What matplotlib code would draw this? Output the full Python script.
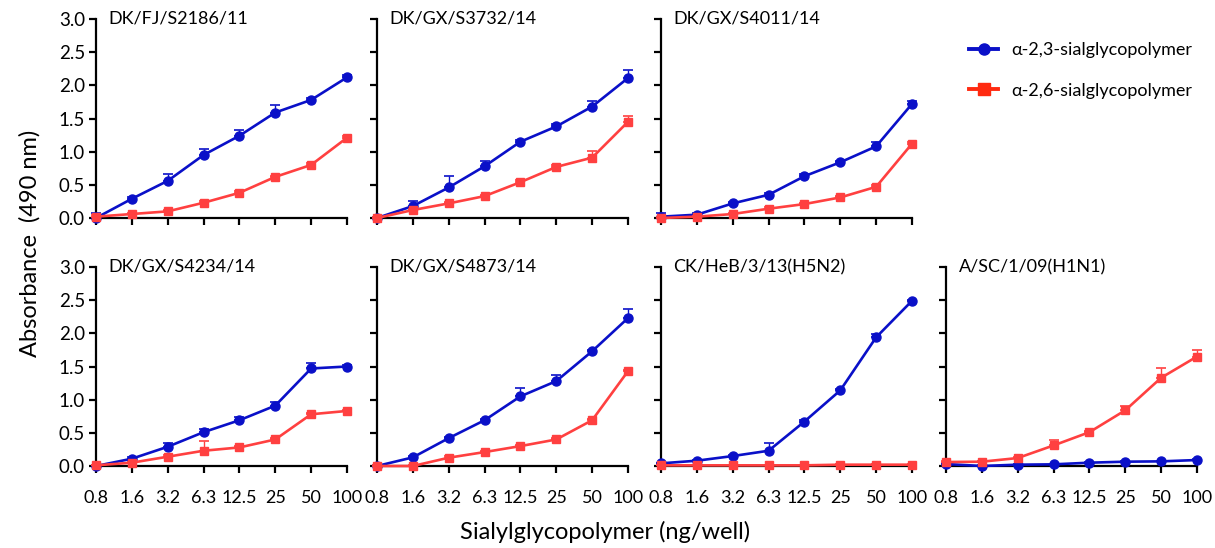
import numpy as np
import matplotlib
matplotlib.use("Agg")
import matplotlib.pyplot as plt

plt.rcParams['font.family'] = ['Lato', 'DejaVu Sans']

# x categories (ng/well)
conc = ['0.8', '1.6', '3.2', '6.3', '12.5', '25', '50', '100']

# panel titles
titles = ['DK/FJ/S2186/11', 'DK/GX/S3732/14', 'DK/GX/S4011/14',
          'DK/GX/S4234/14', 'DK/GX/S4873/14', 'CK/HeB/3/13(H5N2)', 'A/SC/1/09(H1N1)']

# alpha-2,3 values / errors
s2186_a23 = [0.00, 0.29, 0.56, 0.95, 1.24, 1.59, 1.78, 2.12]
s2186_a23_err = [0.08, 0.02, 0.10, 0.09, 0.08, 0.11, 0.03, 0.03]
s3732_a23 = [0.00, 0.18, 0.46, 0.78, 1.15, 1.38, 1.68, 2.11]
s3732_a23_err = [0.02, 0.08, 0.18, 0.08, 0.03, 0.03, 0.08, 0.12]
s4011_a23 = [0.02, 0.05, 0.22, 0.35, 0.63, 0.84, 1.08, 1.72]
s4011_a23_err = [0.05, 0.02, 0.02, 0.02, 0.04, 0.02, 0.06, 0.05]
s4234_a23 = [0.00, 0.11, 0.29, 0.51, 0.69, 0.91, 1.47, 1.50]
s4234_a23_err = [0.01, 0.02, 0.05, 0.05, 0.05, 0.06, 0.08, 0.02]
s4873_a23 = [0.00, 0.13, 0.42, 0.69, 1.05, 1.28, 1.73, 2.23]
s4873_a23_err = [0.01, 0.02, 0.02, 0.02, 0.12, 0.09, 0.02, 0.14]
heb_a23 = [0.04, 0.08, 0.15, 0.23, 0.67, 1.14, 1.94, 2.49]
heb_a23_err = [0.01, 0.01, 0.02, 0.12, 0.02, 0.02, 0.05, 0.02]
sc_a23 = [0.03, 0.00, 0.02, 0.025, 0.05, 0.065, 0.07, 0.09]
sc_a23_err = [0.01, 0.01, 0.01, 0.01, 0.01, 0.01, 0.01, 0.01]

# alpha-2,6 values / errors
s2186_a26 = [0.02, 0.06, 0.10, 0.23, 0.38, 0.62, 0.80, 1.21]
s2186_a26_err = [0.02, 0.02, 0.02, 0.02, 0.02, 0.02, 0.03, 0.03]
s3732_a26 = [0.00, 0.12, 0.22, 0.33, 0.54, 0.77, 0.91, 1.45]
s3732_a26_err = [0.01, 0.02, 0.02, 0.02, 0.03, 0.03, 0.10, 0.09]
s4011_a26 = [0.00, 0.02, 0.06, 0.14, 0.21, 0.31, 0.47, 1.12]
s4011_a26_err = [0.01, 0.01, 0.01, 0.02, 0.02, 0.02, 0.02, 0.03]
s4234_a26 = [0.01, 0.05, 0.14, 0.23, 0.28, 0.40, 0.78, 0.83]
s4234_a26_err = [0.01, 0.01, 0.02, 0.14, 0.02, 0.02, 0.02, 0.02]
s4873_a26 = [0.00, 0.00, 0.125, 0.21, 0.30, 0.40, 0.69, 1.43]
s4873_a26_err = [0.01, 0.01, 0.02, 0.02, 0.02, 0.02, 0.02, 0.02]
heb_a26 = [0.01, 0.01, 0.01, 0.01, 0.01, 0.02, 0.02, 0.02]
heb_a26_err = [0.01, 0.01, 0.01, 0.01, 0.01, 0.01, 0.01, 0.01]
sc_a26 = [0.06, 0.065, 0.12, 0.31, 0.51, 0.84, 1.33, 1.65]
sc_a26_err = [0.01, 0.01, 0.02, 0.08, 0.02, 0.06, 0.15, 0.10]

a23_all = [s2186_a23, s3732_a23, s4011_a23, s4234_a23, s4873_a23, heb_a23, sc_a23]
a23_err_all = [s2186_a23_err, s3732_a23_err, s4011_a23_err, s4234_a23_err,
               s4873_a23_err, heb_a23_err, sc_a23_err]
a26_all = [s2186_a26, s3732_a26, s4011_a26, s4234_a26, s4873_a26, heb_a26, sc_a26]
a26_err_all = [s2186_a26_err, s3732_a26_err, s4011_a26_err, s4234_a26_err,
               s4873_a26_err, heb_a26_err, sc_a26_err]

blue = '#0a10c8'
red = '#ff4040'

W, H = 1215, 548
fig = plt.figure(figsize=(W / 100, H / 100), dpi=100)

col_left = [96, 377, 661, 946]
ax_w = 251
row_bottom = [330, 82]
ax_h = 199

# panel grid positions (row, col)
slots = [(0, 0), (0, 1), (0, 2), (1, 0), (1, 1), (1, 2), (1, 3)]

x = np.arange(len(conc))
for i, (r, c) in enumerate(slots):
    ax = fig.add_axes([col_left[c] / W, row_bottom[r] / H, ax_w / W, ax_h / H])
    zeros = np.zeros(len(conc))
    ax.errorbar(x, a23_all[i], yerr=[zeros, a23_err_all[i]], color=blue, lw=1.9,
                marker='o', ms=6.5, capsize=3.5, elinewidth=1, capthick=1.2, clip_on=False, zorder=3)
    ax.errorbar(x, a26_all[i], yerr=[zeros, a26_err_all[i]], color=red, lw=1.9,
                marker='s', ms=6, capsize=3.5, elinewidth=1, capthick=1.2, clip_on=False, zorder=4)
    ax.set_xlim(0, 7)
    ax.set_ylim(0, 3)
    ax.set_xticks(x)
    ax.set_yticks(np.arange(0, 3.01, 0.5))
    for s in ['top', 'right']:
        ax.spines[s].set_visible(False)
    for s in ['left', 'bottom']:
        ax.spines[s].set_linewidth(1.6)
    ax.tick_params(direction='out', length=5, width=1.6, labelsize=13.5, pad=3)
    if r == 1:
        ax.set_xticklabels(conc, fontsize=13)
        ax.tick_params(axis='x', pad=12)
    else:
        ax.set_xticklabels([])
    if c == 0:
        ax.set_yticklabels(['%.1f' % v for v in np.arange(0, 3.01, 0.5)])
    else:
        ax.set_yticklabels([])
    ax.text(0.05, 1.0, titles[i], transform=ax.transAxes, fontsize=13, va='center', ha='left')

# legend in empty upper-right slot
h1, = fig.axes[0].plot([], [], color=blue, marker='o', ms=8, lw=2.8)
h2, = fig.axes[0].plot([], [], color='#ff2a10', marker='s', ms=8, lw=2.8)
fig.legend([h1, h2], ['α-2,3-sialglycopolymer', 'α-2,6-sialglycopolymer'],
           loc='upper left', bbox_to_anchor=(953 / W, 1 - 26 / H), frameon=False,
           fontsize=13, handlelength=1.6, handletextpad=0.7, labelspacing=1.35)

fig.text(30 / W, 1 - 243 / H, 'Absorbance  (490 nm)', rotation=90, va='center', ha='center', fontsize=17)
fig.text(605 / W, 1 - 532 / H, 'Sialylglycopolymer (ng/well)', va='center', ha='center', fontsize=17)

fig.savefig('out.png', dpi=100)
